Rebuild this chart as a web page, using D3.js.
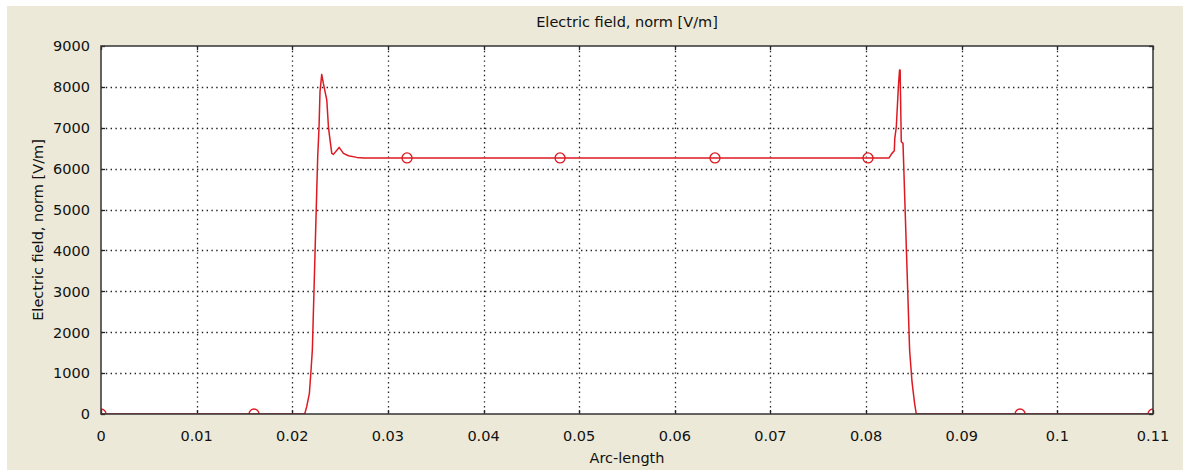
<!DOCTYPE html>
<html>
<head>
<meta charset="utf-8">
<script src="https://cdn.jsdelivr.net/npm/d3@7"></script>
<style>
  html, body { margin: 0; padding: 0; background: #ffffff; }
  svg { display: block; }
  text { font-family: "DejaVu Sans", Verdana, sans-serif; font-size: 14.5px; fill: #111; }
</style>
</head>
<body>
<svg id="chart" width="1183" height="470"></svg>
<script>
// Electric field norm along the arc length
const arcLength = [0, 0.0213, 0.02151, 0.02179, 0.02194, 0.0221, 0.02259, 0.02266, 0.0228, 0.0229, 0.02308,
  0.02325, 0.02361, 0.02378, 0.02395, 0.02413, 0.0243, 0.0249, 0.02535, 0.02587, 0.02675, 0.0275,
  0.0824, 0.0827, 0.08295, 0.083, 0.08316, 0.08325, 0.08334, 0.0834, 0.0835, 0.08356, 0.0836,
  0.08368, 0.08386, 0.08455, 0.0848, 0.08507, 0.08525, 0.11];
const fieldNorm = [0, 0, 180, 506, 995, 1565, 5720, 6290, 7024, 7880, 8306,
  8085, 7677, 7024, 6699, 6374, 6349, 6520, 6374, 6316, 6276, 6262,
  6262, 6374, 6438, 6740, 7024, 7433, 7841, 8085, 8411, 8411, 7800,
  6658, 6618, 1565, 790, 262, 0, 0];

// Marker positions along the curve
const markerArc = [0, 0.016, 0.032, 0.048, 0.0642, 0.0802, 0.0961, 0.11];
const markerField = [0, 0, 6262, 6262, 6262, 6262, 0, 0];

const xTicks = [0, 0.01, 0.02, 0.03, 0.04, 0.05, 0.06, 0.07, 0.08, 0.09, 0.1, 0.11];
const yTicks = [0, 1000, 2000, 3000, 4000, 5000, 6000, 7000, 8000, 9000];

const titleText = "Electric field, norm [V/m]";
const xLabel = "Arc-length";
const yLabel = "Electric field, norm [V/m]";

const W = 1183, H = 470;
const plot = { left: 101, top: 46, right: 1153, bottom: 414 };
const lineColor = "#dd1a22";

const svg = d3.select("#chart");

// window panel
svg.append("rect").attr("x", 0).attr("y", 0).attr("width", W).attr("height", H).attr("fill", "#ffffff");
svg.append("rect").attr("x", 7).attr("y", 6).attr("width", W - 7).attr("height", H - 6).attr("fill", "#ece9d8");

const x = d3.scaleLinear().domain([0, 0.11]).range([plot.left, plot.right]);
const y = d3.scaleLinear().domain([0, 9000]).range([plot.bottom, plot.top]);

// plot background
svg.append("rect")
  .attr("x", plot.left).attr("y", plot.top)
  .attr("width", plot.right - plot.left).attr("height", plot.bottom - plot.top)
  .attr("fill", "#ffffff");

svg.append("clipPath").attr("id", "plotClip")
  .append("rect")
  .attr("x", plot.left).attr("y", plot.top)
  .attr("width", plot.right - plot.left).attr("height", plot.bottom - plot.top);

// dotted grid
const grid = svg.append("g").attr("stroke", "#222").attr("stroke-width", 1.3)
  .attr("stroke-dasharray", "1.4,3.4");
grid.selectAll("line.gx").data(xTicks.slice(1, -1)).join("line")
  .attr("x1", d => Math.round(x(d)) + 0.5).attr("x2", d => Math.round(x(d)) + 0.5)
  .attr("y1", plot.top).attr("y2", plot.bottom);
grid.selectAll("line.gy").data(yTicks.slice(1, -1)).join("line")
  .attr("y1", d => Math.round(y(d)) + 0.5).attr("y2", d => Math.round(y(d)) + 0.5)
  .attr("x1", plot.left).attr("x2", plot.right);

// inward tick marks
const ticks = svg.append("g").attr("stroke", "#222").attr("stroke-width", 1.3);
ticks.selectAll("line.tb").data(xTicks).join("line")
  .attr("x1", d => Math.round(x(d)) + 0.5).attr("x2", d => Math.round(x(d)) + 0.5)
  .attr("y1", plot.bottom).attr("y2", plot.bottom - 4);
ticks.selectAll("line.tt").data(xTicks).join("line")
  .attr("x1", d => Math.round(x(d)) + 0.5).attr("x2", d => Math.round(x(d)) + 0.5)
  .attr("y1", plot.top).attr("y2", plot.top + 4);
ticks.selectAll("line.tl").data(yTicks).join("line")
  .attr("y1", d => Math.round(y(d)) + 0.5).attr("y2", d => Math.round(y(d)) + 0.5)
  .attr("x1", plot.left).attr("x2", plot.left + 4);
ticks.selectAll("line.tr").data(yTicks).join("line")
  .attr("y1", d => Math.round(y(d)) + 0.5).attr("y2", d => Math.round(y(d)) + 0.5)
  .attr("x1", plot.right).attr("x2", plot.right - 4);

// curve and markers
const series = arcLength.map((a, i) => [a, fieldNorm[i]]);
const line = d3.line().x(d => x(d[0])).y(d => y(d[1]));
const g = svg.append("g").attr("clip-path", "url(#plotClip)");
g.append("path").datum(series)
  .attr("d", line)
  .attr("fill", "none")
  .attr("stroke", lineColor)
  .attr("stroke-width", 1.5)
  .attr("stroke-linejoin", "round");
g.selectAll("circle").data(markerArc.map((a, i) => [a, markerField[i]])).join("circle")
  .attr("cx", d => x(d[0])).attr("cy", d => y(d[1]))
  .attr("r", 5)
  .attr("fill", "none")
  .attr("stroke", lineColor)
  .attr("stroke-width", 1.3);

// frame
svg.append("rect")
  .attr("x", plot.left).attr("y", plot.top)
  .attr("width", plot.right - plot.left).attr("height", plot.bottom - plot.top)
  .attr("fill", "none").attr("stroke", "#333").attr("stroke-width", 1.5);

// tick labels
svg.append("g").selectAll("text").data(xTicks).join("text")
  .attr("x", d => x(d)).attr("y", 441)
  .attr("text-anchor", "middle")
  .text(d => d3.format("~g")(d));
svg.append("g").selectAll("text").data(yTicks).join("text")
  .attr("x", 90).attr("y", d => y(d) + 5.3)
  .attr("text-anchor", "end")
  .text(d => d);

// titles
svg.append("text").attr("x", (plot.left + plot.right) / 2).attr("y", 27)
  .attr("text-anchor", "middle").text(titleText);
svg.append("text").attr("x", (plot.left + plot.right) / 2).attr("y", 463)
  .attr("text-anchor", "middle").text(xLabel);
svg.append("text")
  .attr("transform", `translate(42.5, ${(plot.top + plot.bottom) / 2}) rotate(-90)`)
  .attr("text-anchor", "middle").text(yLabel);
</script>
</body>
</html>
